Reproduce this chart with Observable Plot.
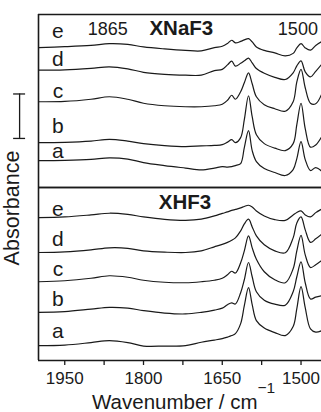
<!DOCTYPE html>
<html><head><meta charset="utf-8">
<script src="https://cdn.jsdelivr.net/npm/d3@7"></script>
<script src="https://cdn.jsdelivr.net/npm/@observablehq/plot@0.6"></script>
<style>
html,body{margin:0;padding:0;background:#fff;}
#chart svg{display:block;}
</style></head><body><div id="chart"></div>
<script>
// Wavenumber grid (cm^-1)
const wavenumbers = [2000,1950,1900,1865,1830,1800,1760,1720,1690,1665,1650,1640,1632,1625,1615,1608,1600,1593,1585,1570,1550,1530,1515,1508,1500,1492,1482,1472,1460];
const traceNames = ["a","b","c","d","e"];
const panelNames = ["XNaF3","XHF3"];

// XNaF3 panel, stacked absorbance (arbitrary units, offset traces)
const xnaf3_a = [27,27.3,28.2,29.7,28.5,25,22,19.5,17.7,19.5,21,20.5,21,22,24,40,57,37,26,19,15,12,18,29,46,28,17,20,16];
const xnaf3_b = [45,45.3,46.5,48.3,46.5,44,42,41,41.7,42.2,43,45.5,48,45,50,68,92,71,53,44,39.5,37,44,63,84.5,59,40.5,42.7,51.5];
const xnaf3_c = [86,86.3,88.5,91,88.5,84.5,82,81,81,82,83.5,87.5,92.5,88.5,96,105,115,104,91,83,79,76.5,86,106,118.5,100,84.5,84,94.5];
const xnaf3_d = [117.7,118,119.5,121,119,115.5,113.5,112.7,112.7,117.2,118.5,123,126.7,121.7,124.5,127,129.8,125,119.3,114.5,110.5,108.3,115,122,127,116,111,116.5,124];
const xnaf3_e = [140.3,141.2,142.5,144.2,143.5,141,139,137.5,137,140.3,141.7,144.5,147.7,145,146.5,148,149.3,146,141,137.5,135,132,134.5,140,144.3,140,137.7,142.5,146.5];

// XHF3 panel, stacked absorbance (arbitrary units, offset traces)
const xhf3_a = [15,15.5,18,20,18,14.5,14.5,15,18.3,20.5,22,23.5,25,27,37,55,73,56,40,32.5,28,25,34,52,74,53,31.7,28.5,30];
const xhf3_b = [48.3,49,51.5,53.3,52.5,50,47.5,46.7,48.3,50.5,52.5,56,57.7,56.7,68,81,98.3,84,69,60.5,56.5,55.5,69,84,99,78,61.7,63.5,65];
const xhf3_c = [79,80,82.5,85,83.5,80.5,78.5,78,79,80.5,82.5,86,89.5,87.7,98,110,125,113,101.5,89,81,78,92,110,125.5,106,93.3,96,100.5];
const xhf3_d = [108.3,109,111,113,112.5,110,108.7,108.3,110,114,116.5,118.5,120.5,123,130,137,141.7,134,125,116,110,108,123,138,144,131,118.5,122,127];
const xhf3_e = [143.3,144,146,147.7,146.5,144,141.5,140.5,141.7,145,147.5,149,150.5,151.5,153,154.5,155.7,154,150,145,141.3,140.5,146,148.5,150,146,144,148.3,152];

// Trace label levels (a..e) per panel
const xnaf3_labelLevels = [29.8,54.8,89.8,121.5,149.5];
const xhf3_labelLevels = [23,55,85,115,145];

// x-axis ticks
const majorTicks = [1950,1800,1650,1500];
const minorTicks = [1875,1725,1575];

// Absorbance scale bar (length in plot units)
const scaleBarLow = 49.2, scaleBarHigh = 93.8;

const series = {
  XNaF3: {a: xnaf3_a, b: xnaf3_b, c: xnaf3_c, d: xnaf3_d, e: xnaf3_e},
  XHF3: {a: xhf3_a, b: xhf3_b, c: xhf3_c, d: xhf3_d, e: xhf3_e}
};
const labelLevels = {XNaF3: xnaf3_labelLevels, XHF3: xhf3_labelLevels};

const rows = panelNames.flatMap(p => traceNames.flatMap(t =>
  series[p][t].map((v, i) => ({panel: p, trace: t, key: p + t, w: wavenumbers[i], v}))));
const labelRows = panelNames.flatMap(p => traceNames.map((t, i) => ({panel: p, trace: t, y: labelLevels[p][i]})));

const font = "'Liberation Sans', Arial, Helvetica, sans-serif";
const ink = "#1a1a1a";

const chart = Plot.plot({
  width: 321, height: 412,
  marginLeft: 38, marginRight: 0, marginTop: 13, marginBottom: 52,
  style: {fontFamily: font, background: "#fff", color: ink},
  x: {domain: [2000, 1461]},
  y: {domain: [0, 173.5], axis: null},
  fy: {domain: panelNames, axis: null, padding: 0},
  marks: [
    Plot.line(rows, {x: "w", y: "v", z: "key", fy: "panel", curve: "catmull-rom", stroke: ink, strokeWidth: 1.2, clip: true}),
    Plot.ruleX([2000], {stroke: ink, strokeWidth: 1.6}),
    Plot.ruleY([0, 173.5], {stroke: ink, strokeWidth: 1.6}),
    Plot.text(labelRows, {x: 1963, y: "y", fy: "panel", text: "trace", fontSize: 21, lineAnchor: "bottom", textAnchor: "middle", fill: ink}),
    Plot.text([{panel: "XNaF3", w: 1868, t: "1865"}, {panel: "XNaF3", w: 1506, t: "1500"}],
      {x: "w", y: 153.2, fy: "panel", text: "t", fontSize: 18, lineAnchor: "bottom", fill: ink}),
    Plot.text([{panel: "XNaF3", w: 1728, y: 153.2, t: "XNaF3"}, {panel: "XHF3", w: 1721, y: 151.5, t: "XHF3"}],
      {x: "w", y: "y", fy: "panel", text: "t", fontSize: 20.5, fontWeight: "bold", lineAnchor: "bottom", fill: ink}),
    // scale bar
    Plot.ruleX([{panel: "XNaF3"}], {x: 2036, y1: scaleBarLow, y2: scaleBarHigh, fy: "panel", stroke: ink, strokeWidth: 1.3}),
    Plot.ruleY([{panel: "XNaF3", y: scaleBarLow}, {panel: "XNaF3", y: scaleBarHigh}], {y: "y", x1: 2047.4, x2: 2024.6, fy: "panel", stroke: ink, strokeWidth: 1.3}),
    Plot.axisX({ticks: majorTicks, tickFormat: d => String(d), tickSize: 5, tickPadding: 6, fontSize: 17, label: null, strokeWidth: 1.3}),
    Plot.axisX({ticks: minorTicks, tickSize: 5, tickFormat: () => "", label: null, strokeWidth: 1.3})
  ]
});

const svg = d3.select(chart);
const xl = svg.append("text").attr("x", 92).attr("y", 409.3).attr("text-anchor", "start")
  .attr("font-family", font).attr("font-size", 20.5).attr("fill", ink);
xl.append("tspan").text("Wavenumber / cm");
xl.append("tspan").attr("dy", -16).attr("font-size", 15.5).text("\u22121");
svg.append("text").attr("transform", "translate(18.5,208) rotate(-90)")
  .attr("text-anchor", "middle").attr("font-family", font).attr("font-size", 21.5).attr("fill", ink)
  .text("Absorbance");

document.getElementById("chart").appendChild(chart);
</script></body></html>
